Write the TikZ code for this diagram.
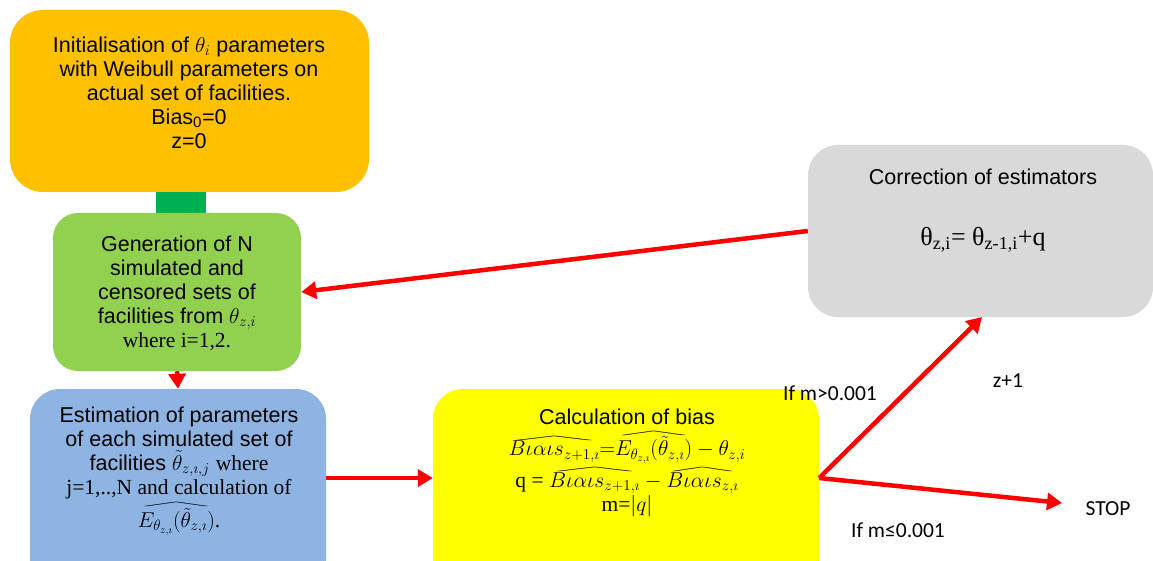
\RequirePackage{fix-cm}
\documentclass[tikz,border=0pt]{standalone}
\usepackage{amsmath}
\usepackage{graphicx}
\usepackage{fontspec}
\setmainfont{Liberation Serif}
\setsansfont{Liberation Sans}
\newfontfamily\calibri{Carlito}
\newfontfamily\timesf{Liberation Serif}
\usetikzlibrary{arrows.meta}
\definecolor{orangeC}{HTML}{FFC000}
\definecolor{greenC}{HTML}{92D050}
\definecolor{darkgreenC}{HTML}{00B050}
\definecolor{blueC}{HTML}{8EB4E3}
\definecolor{yellowC}{HTML}{FFFF00}
\definecolor{grayC}{HTML}{D9D9D9}
\definecolor{redC}{HTML}{FF0000}
\newcommand\widehatX[1]{\mathord{\setbox0=\hbox{$#1$}\vbox{\offinterlineskip\hbox to\wd0{\resizebox{\wd0}{4pt}{$\wedge$}}\kern1pt\box0}}}
\tikzset{
  maintext/.style={align=center, inner sep=0pt, font=\sffamily\fontsize{21.5}{24}\selectfont},
  lbl/.style={inner sep=0pt, font=\calibri\fontsize{21.5}{24}\selectfont},
  redarrow/.style={draw=redC, line width=4.5pt, -{Triangle[length=15pt,width=17pt]}},
}
\begin{document}
\begin{tikzpicture}[x=1pt,y=-1pt]
\useasboundingbox (0,0) rectangle (1153,561);
\clip (0,0) rectangle (1153,561);
% green connector bar
\fill[darkgreenC] (156,180) rectangle (206,225);
% boxes
\fill[orangeC, rounded corners=33pt] (10,10) rectangle (369,192);
\node[inner sep=0pt, minimum width=359pt, minimum height=182pt] (init) at (189.5,101) {};
\fill[greenC, rounded corners=25pt] (53,213) rectangle (301,371);
\node[inner sep=0pt, minimum width=248pt, minimum height=158pt] (gen) at (177,292) {};
\fill[blueC, rounded corners=30pt] (30,389) rectangle (326,590);
\node[inner sep=0pt, minimum width=296pt, minimum height=178pt] (est) at (178,478) {};
\fill[yellowC, rounded corners=30pt] (433,389) rectangle (819,590);
\node[inner sep=0pt, minimum width=386pt, minimum height=178pt] (calc) at (626,478) {};
\fill[grayC, rounded corners=30pt] (808,145) rectangle (1153,317);
\node[inner sep=0pt, minimum width=345pt, minimum height=172pt] (corr) at (980.5,231) {};
% texts
\node[maintext] (initT) at (189,93) {Initialisation of $\theta_i$ parameters\\with Weibull parameters on\\actual set of facilities.\\Bias\textsubscript{0}=0\\z=0};
\node[maintext] (genT) at (177,293) {Generation of N\\simulated and\\censored sets of\\facilities from $\theta_{z,i}$\\{\timesf where i=1,2.}};
\node[maintext] (estT) at (179,471) {Estimation of parameters\\of each simulated set of\\facilities $\tilde{\theta}_{z,\imath,j}$ {\timesf where}\\{\timesf j=1,..,N and calculation of}\\[3pt]{\timesf $\widehatX{E_{\theta_{z,\imath}}(\tilde{\theta}_{z,\imath})}$.}};
\node[maintext] (calcT) at (627,463) {Calculation of bias\\[5pt]$\widehatX{B\iota\alpha\iota s_{z+1,\imath}}{=}\widehatX{E_{\theta_{z,\imath}}(\tilde{\theta}_{z,\imath})}-\theta_{z,i}$\\[3pt]{\timesf q = }$\widehatX{B\iota\alpha\iota s_{z+1,\imath}}-\widehatX{B\iota\alpha\iota s_{z,\imath}}$\\{\timesf m=}$|q|$};
\node[maintext] (corrT) at (983,177) {Correction of estimators};
\node[inner sep=0pt, font=\timesf\fontsize{26}{28}\selectfont] (corrEq) at (983,240) {θ\textsubscript{z,i}= θ\textsubscript{z-1,i}+q};
% labels
\node[lbl] (lblGt) at (830,393) {If m>0.001};
\node[lbl] (lblZ) at (1008,381) {z+1};
\node[lbl] (stop) at (1108,509) {STOP};
\node[lbl] (lblLe) at (898,530) {If m≤0.001};
% connectors
\coordinate (fork) at (calc.east);
\coordinate (stopend) at (1062,503);
\draw[redarrow] (gen.south) -- (est.north);
\draw[redarrow] (est.east) -- (calc.west);
\draw[redarrow] (corr.west) -- (gen.east);
\draw[redarrow] (fork) -- (982,317);
\draw[redarrow] (fork) -- (stopend);
\end{tikzpicture}
\end{document}
